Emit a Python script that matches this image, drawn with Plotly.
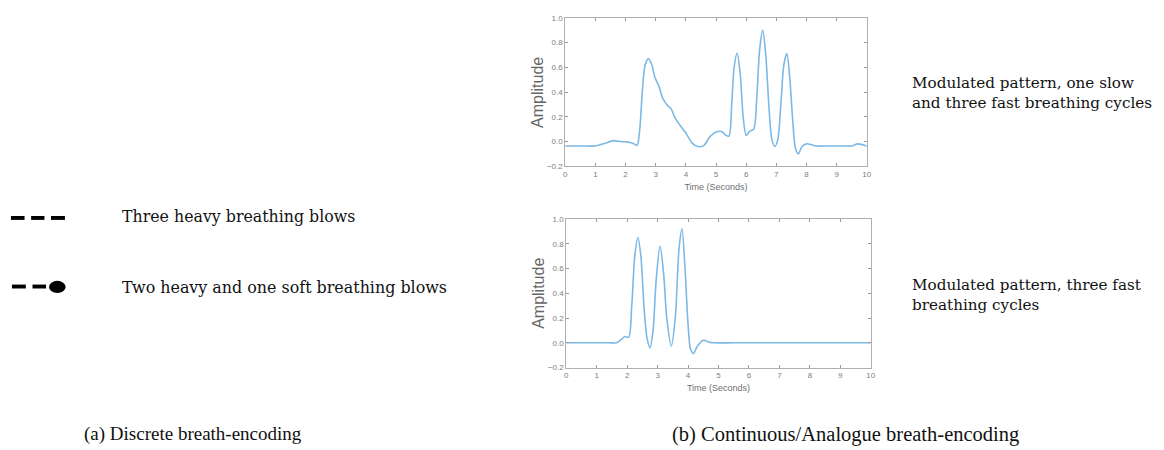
import plotly.graph_objects as go

# ---- data ----
t_top = [0, 0.5, 1.0, 1.3, 1.6, 1.85, 2.05, 2.25, 2.38, 2.47, 2.56, 2.65, 2.76, 2.87, 2.97,
         3.1, 3.25, 3.4, 3.52, 3.62, 3.78, 4.0, 4.2, 4.4, 4.6, 4.8, 5.0, 5.2, 5.33, 5.43,
         5.52, 5.6, 5.7, 5.8, 5.9, 6.0, 6.12, 6.25, 6.35, 6.45, 6.55, 6.65, 6.75, 6.85,
         6.95, 7.05, 7.15, 7.25, 7.35, 7.45, 7.55, 7.63, 7.73, 7.85, 8.0, 8.3, 8.8, 9.2,
         9.5, 9.7, 10]
a_top = [-0.035, -0.035, -0.035, -0.015, 0.008, 0.0, -0.002, -0.015, -0.03, 0.1, 0.42, 0.62,
         0.67, 0.62, 0.52, 0.45, 0.34, 0.29, 0.26, 0.2, 0.14, 0.07, -0.01, -0.04, -0.03, 0.04,
         0.077, 0.08, 0.05, 0.045, 0.3, 0.6, 0.715, 0.55, 0.2, 0.05, 0.085, 0.1, 0.35, 0.75,
         0.9, 0.7, 0.3, 0.02, -0.04, 0.02, 0.3, 0.62, 0.71, 0.5, 0.15, -0.05, -0.10, -0.04,
         -0.018, -0.035, -0.035, -0.035, -0.035, -0.018, -0.035]

t_bot = [0, 0.5, 1.0, 1.4, 1.65, 1.8, 1.92, 2.05, 2.15, 2.25, 2.35, 2.45, 2.55, 2.65, 2.75,
         2.85, 2.95, 3.08, 3.2, 3.3, 3.45, 3.58, 3.7, 3.8, 3.9, 4.0, 4.08, 4.18, 4.3, 4.5,
         4.7, 4.85, 5.5, 6.5, 7.5, 8.5, 9.5, 10]
a_bot = [0, 0, 0, 0, 0, 0.025, 0.05, 0.045, 0.3, 0.7, 0.85, 0.7, 0.3, 0.04, -0.04, 0.1,
         0.5, 0.78, 0.55, 0.2, -0.026, 0.2, 0.75, 0.92, 0.6, 0.15, -0.05, -0.087, -0.03,
         0.02, 0.005, 0.0, 0, 0, 0, 0, 0, 0]

x_ticks = list(range(0, 11))
y_ticks = [-0.2, 0.0, 0.2, 0.4, 0.6, 0.8, 1.0]

W, H = 1164, 450
LINE = "#7db9e5"
AX = "#b0b0b0"
SANS = "Liberation Sans, Arial"
TICK_FONT = dict(family=SANS, size=8, color="#808080")

fig = go.Figure()
fig.add_trace(go.Scatter(x=t_top, y=a_top, mode="lines", xaxis="x", yaxis="y",
                         line=dict(color=LINE, width=1.6, shape="spline", smoothing=0.8),
                         showlegend=False, hoverinfo="skip"))
fig.add_trace(go.Scatter(x=t_bot, y=a_bot, mode="lines", xaxis="x2", yaxis="y2",
                         line=dict(color=LINE, width=1.6, shape="spline", smoothing=0.8),
                         showlegend=False, hoverinfo="skip"))


def xax(domain, anchor):
    return dict(domain=domain, anchor=anchor, range=[0, 10], tickvals=x_ticks,
                showline=True, linecolor=AX, linewidth=1, mirror="ticks", ticks="inside",
                ticklen=3, tickcolor="#999", tickfont=TICK_FONT, showgrid=False,
                zeroline=False, fixedrange=True,
                title=dict(text="Time (Seconds)", standoff=5,
                           font=dict(family=SANS, size=9, color="#707070")))


def yax(domain, anchor):
    return dict(domain=domain, anchor=anchor, range=[-0.2, 1.0], tickvals=y_ticks,
                tickformat=".1f", showline=True, linecolor=AX, linewidth=1, mirror="ticks",
                ticks="inside", ticklen=3, tickcolor="#999", tickfont=TICK_FONT,
                showgrid=False, zeroline=False, fixedrange=True)


fig.update_layout(
    width=W, height=H, margin=dict(l=0, r=0, t=0, b=0),
    paper_bgcolor="white", plot_bgcolor="white",
    xaxis=xax([566.7 / W, 870 / W], "y"),
    yaxis=yax([1 - 165.7 / H, 1 - 14 / H], "x"),
    xaxis2=xax([567.7 / W, 874 / W], "y2"),
    yaxis2=yax([1 - 371 / H, 1 - 219.3 / H], "x2"),
)

SERIF = "DejaVu Serif"
TXT = "#111"


def note(text, x, y, size=15, family=SERIF, xanchor="left", color=TXT, angle=0):
    fig.add_annotation(text=text, x=x / W, y=1 - y / H, xref="paper", yref="paper",
                       xanchor=xanchor, yanchor="middle", showarrow=False, align="left",
                       textangle=angle, font=dict(family=family, size=size, color=color))


# y-axis titles
note("Amplitude", 538, 90, size=16, family=SANS, xanchor="center", color="#666", angle=-90)
note("Amplitude", 539, 295, size=16, family=SANS, xanchor="center", color="#666", angle=-90)

note("Three heavy breathing blows", 119, 217, size=15.8)
note("Two heavy and one soft breathing blows", 119, 289, size=15.9)
note("Modulated pattern, one slow<br>and three fast breathing cycles", 913, 91, size=15.2)
note("Modulated pattern, three fast<br>breathing cycles", 913, 297, size=15.2)
note("(a) Discrete breath-encoding", 80, 439, size=19, family="Liberation Serif")
note("(b) Continuous/Analogue breath-encoding", 672, 439, size=20.5, family="Liberation Serif")

# legend-like symbols on the left (decorative)
for x0, x1 in [(9, 22.7), (29.3, 42.7), (49.3, 63.3)]:
    fig.add_shape(type="rect", xref="paper", yref="paper", x0=x0 / W, x1=x1 / W,
                  y0=1 - 220.3 / H, y1=1 - 216.3 / H, fillcolor="black", line_width=0)
for x0, x1 in [(10, 24), (30.7, 44.3)]:
    fig.add_shape(type="rect", xref="paper", yref="paper", x0=x0 / W, x1=x1 / W,
                  y0=1 - 290.3 / H, y1=1 - 286.3 / H, fillcolor="black", line_width=0)
fig.add_shape(type="circle", xref="paper", yref="paper", x0=47.3 / W, x1=64 / W,
              y0=1 - 295 / H, y1=1 - 282.5 / H, fillcolor="black", line_width=0)

fig.write_html("out.html", config={"displayModeBar": False},
               post_script="document.body.style.margin='0';")
